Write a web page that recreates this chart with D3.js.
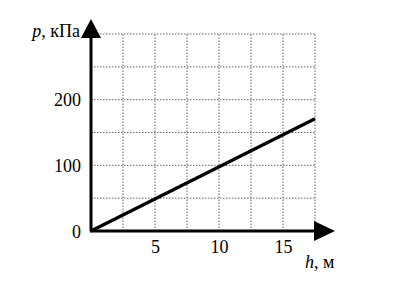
<!DOCTYPE html>
<html>
<head>
<meta charset="utf-8">
<script src="https://cdn.jsdelivr.net/npm/d3@7"></script>
<style>
  body { margin: 0; background: #fff; }
  text { font-family: "Liberation Serif", "Times New Roman", "DejaVu Serif", serif; }
</style>
</head>
<body>
<svg id="chart" width="399" height="282"></svg>
<script>
// data
const hValues = [0, 17.5];
const pValues = [0, 171];
const xTicks = [5, 10, 15];
const yTicks = [0, 100, 200];
const xGrid = [2.5, 5, 7.5, 10, 12.5, 15, 17.5];
const yGrid = [50, 100, 150, 200, 250, 300];

const svg = d3.select("#chart");

const x = d3.scaleLinear().domain([0, 17.5]).range([91, 315]);
const y = d3.scaleLinear().domain([0, 300]).range([231, 34]);

// dotted grid
svg.append("g")
  .selectAll("line")
  .data(xGrid)
  .enter()
  .append("line")
  .attr("x1", d => x(d)).attr("x2", d => x(d))
  .attr("y1", y(0)).attr("y2", y(300))
  .attr("stroke", "#666")
  .attr("stroke-width", 1)
  .attr("stroke-dasharray", "1.5,1.5");

svg.append("g")
  .selectAll("line")
  .data(yGrid)
  .enter()
  .append("line")
  .attr("x1", x(0)).attr("x2", x(17.5))
  .attr("y1", d => y(d)).attr("y2", d => y(d))
  .attr("stroke", "#666")
  .attr("stroke-width", 1)
  .attr("stroke-dasharray", "1.5,1.5");

// axes with arrows
svg.append("line")
  .attr("x1", x(0)).attr("y1", y(0))
  .attr("x2", x(0)).attr("y2", 36)
  .attr("stroke", "#000").attr("stroke-width", 3);
svg.append("path")
  .attr("d", `M${x(0) - 10},38 L${x(0)},19 L${x(0) + 10},38 Z`)
  .attr("fill", "#000");

svg.append("line")
  .attr("x1", x(0) - 1).attr("y1", y(0))
  .attr("x2", 316).attr("y2", y(0))
  .attr("stroke", "#000").attr("stroke-width", 3);
svg.append("path")
  .attr("d", `M314,${y(0) - 10} L335,${y(0)} L314,${y(0) + 10} Z`)
  .attr("fill", "#000");

// the line p(h)
const line = d3.line()
  .x((d, i) => x(hValues[i]))
  .y(d => y(d));
svg.append("path")
  .datum(pValues)
  .attr("d", line)
  .attr("fill", "none")
  .attr("stroke", "#000")
  .attr("stroke-width", 3.2);

// tick labels via axes, no domain or tick marks
const xAxis = svg.append("g")
  .attr("transform", `translate(0,${y(0)})`)
  .call(d3.axisBottom(x).tickValues(xTicks).tickSize(0).tickPadding(9).tickFormat(d3.format("d")));
const yAxis = svg.append("g")
  .attr("transform", `translate(${x(0) - 10},0)`)
  .call(d3.axisLeft(y).tickValues(yTicks).tickSize(0).tickPadding(0).tickFormat(d3.format("d")));
[xAxis, yAxis].forEach(g => {
  g.select(".domain").remove();
  g.selectAll("text")
    .attr("font-size", 18)
    .attr("fill", "#000");
});
yAxis.selectAll("text").attr("dy", "0.35em");
xAxis.selectAll("text").attr("dy", "0.71em");

// axis titles
const yTitle = svg.append("text")
  .attr("x", 80).attr("y", 37)
  .attr("text-anchor", "end")
  .attr("font-size", 18);
yTitle.append("tspan").attr("font-style", "italic").text("p");
yTitle.append("tspan").text(", кПа");

const xTitle = svg.append("text")
  .attr("x", 305).attr("y", 268)
  .attr("font-size", 18);
xTitle.append("tspan").attr("font-style", "italic").text("h");
xTitle.append("tspan").text(", м");
</script>
</body>
</html>
